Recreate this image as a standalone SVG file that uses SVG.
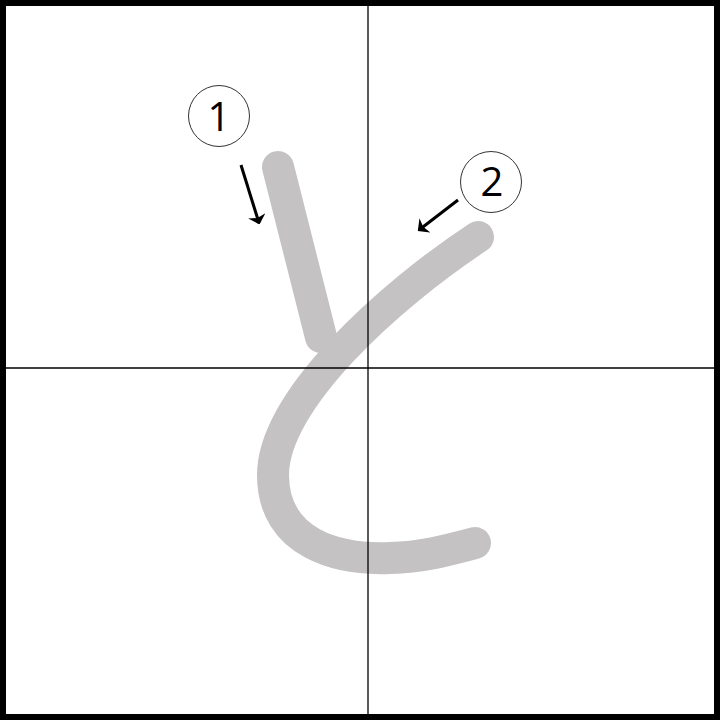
<svg xmlns="http://www.w3.org/2000/svg" width="720" height="720" viewBox="0 0 720 720">
<defs>
<style>
.stroke{fill:none;stroke:#c4c2c2;stroke-width:32;stroke-linecap:round;stroke-linejoin:round}
.guide{stroke:#000;stroke-width:1.3}
.arrow{stroke:#000;stroke-width:3;fill:none}
.num{fill:#fff;stroke:#333;stroke-width:1}
.lbl{font-family:"Open Sans","Liberation Sans",sans-serif;font-size:40px;fill:#000;text-anchor:middle}
</style>
<marker id="ah" viewBox="0 0 6 12" refX="5" refY="6" markerWidth="3" markerHeight="6" orient="auto" markerUnits="strokeWidth">
<path d="M0,0 L6,6 L0,12 L1.5,6 z" fill="#000"/>
</marker>
</defs>
<rect x="0" y="0" width="720" height="720" fill="#fff"/>
<g id="strokes">
<path id="stroke1" class="stroke" d="M278,167 L321,337"/>
<path id="stroke2" class="stroke" d="M478,237 C390,295 273,400 273,475 C273,545 340,560 390,558 C425,557 452,549 475,543"/>
</g>
<g id="guides">
<line class="guide" x1="368" y1="0" x2="368" y2="720"/>
<line class="guide" x1="0" y1="368" x2="720" y2="368"/>
</g>
<rect x="3" y="3" width="714" height="714" fill="none" stroke="#000" stroke-width="6"/>
<g id="connectors">
<line class="arrow" x1="241" y1="165" x2="259" y2="223" marker-end="url(#ah)"/>
<line class="arrow" x1="458" y1="200" x2="419" y2="230" marker-end="url(#ah)"/>
</g>
<g id="label1">
<circle class="num" cx="219" cy="116" r="30.5"/>
<text class="lbl" x="219" y="131">1</text>
</g>
<g id="label2">
<circle class="num" cx="491" cy="182" r="30.5"/>
<text class="lbl" x="492" y="196">2</text>
</g>
</svg>
